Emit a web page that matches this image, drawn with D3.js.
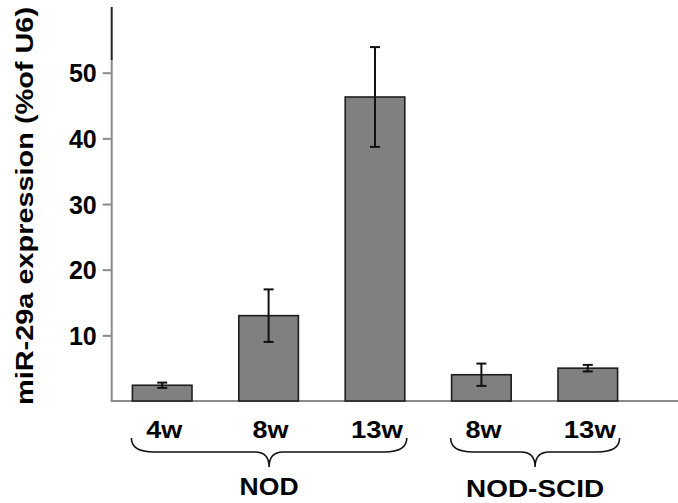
<!DOCTYPE html>
<html>
<head>
<meta charset="utf-8">
<script src="https://cdn.jsdelivr.net/npm/d3@7"></script>
<style>
  html, body { margin: 0; padding: 0; background: #fff; }
  svg { display: block; }
  text { font-family: "Liberation Sans", Arial, sans-serif; font-weight: bold; fill: #000; }
</style>
</head>
<body>
<svg id="chart" width="678" height="503"></svg>
<script>
// ---- data ----
const ids = ["NOD-4w", "NOD-8w", "NOD-13w", "SCID-8w", "SCID-13w"];
const categories = ["4w", "8w", "13w", "8w", "13w"];
const means = [2.4, 13.0, 46.3, 4.0, 5.0];
const errors = [0.4, 4.0, 7.6, 1.7, 0.5];
const groups = ["NOD", "NOD-SCID"];
const groupMembers = [["NOD-4w", "NOD-8w", "NOD-13w"], ["SCID-8w", "SCID-13w"]];
const yTicks = [10, 20, 30, 40, 50];
const yTitle = "miR-29a expression (%of U6)";

(function () {
const svg = d3.select("#chart");

const x = d3.scaleBand().domain(ids).range([109, 641]).paddingInner(0.44).paddingOuter(0.22);
const y = d3.scaleLinear().domain([0, 50]).range([401, 72.7]);

const axisX = 111.7;

// y axis ticks
const yAxis = d3.axisLeft(y).tickValues(yTicks).tickSize(9).tickPadding(6).tickFormat(d3.format("d"));
const gy = svg.append("g").attr("transform", `translate(${axisX},0)`).call(yAxis);
gy.select(".domain").remove();
gy.selectAll(".tick line").attr("stroke", "#8a8a8a").attr("stroke-width", 2);
gy.selectAll(".tick text")
  .attr("font-size", 25)
  .attr("font-family", "Liberation Sans, Arial, sans-serif")
  .attr("font-weight", "bold")
  .attr("fill", "#000")
  .attr("dy", "0.36em")
  .attr("x", -15);

// y axis line (gray lower part, dark top part)
svg.append("line").attr("x1", axisX).attr("x2", axisX).attr("y1", y(0)).attr("y2", 60)
  .attr("stroke", "#8a8a8a").attr("stroke-width", 2);
svg.append("line").attr("x1", axisX).attr("x2", axisX).attr("y1", 60).attr("y2", 7)
  .attr("stroke", "#222").attr("stroke-width", 2);

// x axis baseline
svg.append("line").attr("x1", axisX - 1).attr("x2", 678).attr("y1", y(0)).attr("y2", y(0))
  .attr("stroke", "#8a8a8a").attr("stroke-width", 2);

// bars
svg.append("g").selectAll("rect").data(ids).join("rect")
  .attr("x", d => x(d))
  .attr("y", (d, i) => y(means[i]))
  .attr("width", x.bandwidth())
  .attr("height", (d, i) => y(0) - y(means[i]))
  .attr("fill", "#808080")
  .attr("stroke", "#1e1e1e")
  .attr("stroke-width", 1.6);

// error bars
const eg = svg.append("g").attr("stroke", "#111").attr("stroke-width", 2);
ids.forEach((d, i) => {
  const cx = x(d) + x.bandwidth() / 2;
  const yt = y(means[i] + errors[i]);
  const yb = y(means[i] - errors[i]);
  eg.append("line").attr("x1", cx).attr("x2", cx).attr("y1", yt).attr("y2", yb);
  eg.append("line").attr("x1", cx - 5).attr("x2", cx + 5).attr("y1", yt).attr("y2", yt);
  eg.append("line").attr("x1", cx - 5).attr("x2", cx + 5).attr("y1", yb).attr("y2", yb);
});

// category labels
svg.append("g").selectAll("text").data(ids).join("text")
  .attr("x", d => x(d) + x.bandwidth() / 2 + 2)
  .attr("y", 438)
  .attr("text-anchor", "middle")
  .attr("font-size", 23)
  .attr("textLength", (d, i) => categories[i].length === 2 ? 36 : 52)
  .attr("lengthAdjust", "spacingAndGlyphs")
  .text((d, i) => categories[i]);

// braces and group labels
const bTop = 438, bMid = 452, bTip = 467, r = 14;
groups.forEach((g, gi) => {
  const mem = groupMembers[gi];
  const x0 = x(mem[0]) - 1;
  const x1 = x(mem[mem.length - 1]) + x.bandwidth() + 2;
  const c = (x0 + x1) / 2;
  const p = d3.path();
  p.moveTo(x0, bTop);
  p.quadraticCurveTo(x0, bMid, x0 + r * 1.6, bMid);
  p.lineTo(c - r, bMid);
  p.quadraticCurveTo(c, bMid, c, bTip);
  p.quadraticCurveTo(c, bMid, c + r, bMid);
  p.lineTo(x1 - r * 1.6, bMid);
  p.quadraticCurveTo(x1, bMid, x1, bTop);
  svg.append("path").attr("d", p.toString()).attr("fill", "none")
    .attr("stroke", "#111").attr("stroke-width", 1.6);
  svg.append("text")
    .attr("x", c)
    .attr("y", gi === 0 ? 494.5 : 497)
    .attr("text-anchor", "middle")
    .attr("font-size", 23)
    .attr("textLength", gi === 0 ? 59 : 138)
    .attr("lengthAdjust", "spacingAndGlyphs")
    .text(g);
});

// y title
svg.append("text")
  .attr("transform", `translate(33,206) rotate(-90)`)
  .attr("text-anchor", "middle")
  .attr("font-size", 23)
  .attr("textLength", 398)
  .attr("lengthAdjust", "spacingAndGlyphs")
  .text(yTitle);
})();
</script>
</body>
</html>
